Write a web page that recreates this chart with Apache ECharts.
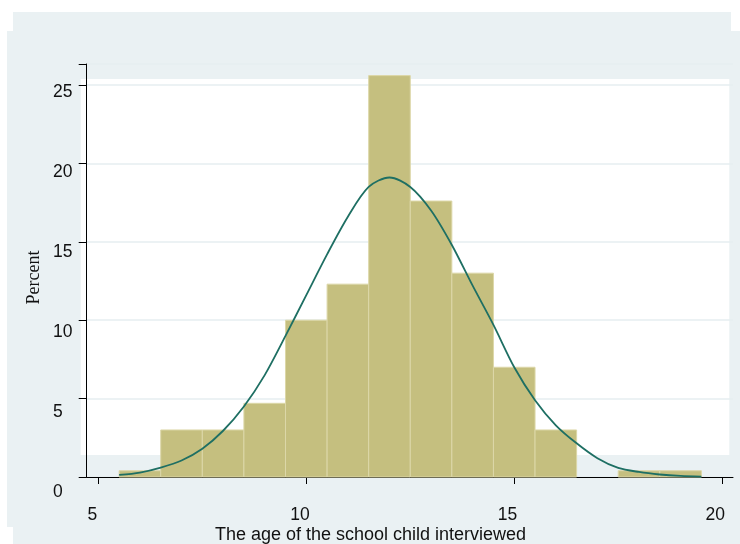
<!DOCTYPE html>
<html>
<head>
<meta charset="utf-8">
<script src="https://cdn.jsdelivr.net/npm/echarts@6/dist/echarts.min.js"></script>
<style>
html,body{margin:0;padding:0;background:#ffffff;}
#chart{width:740px;height:544px;}
</style>
</head>
<body>
<div id="chart"></div>
<script>
// ---- data ----
const binCenters = [6, 7, 8, 9, 10, 11, 12, 13, 14, 15, 16, 17, 18, 19];
const binPercents = [0.4, 3.0, 3.0, 4.7, 10.0, 12.3, 25.6, 17.6, 13.0, 7.0, 3.0, 0, 0.4, 0.4];
const binWidth = 1;

const curveX = [5.5, 6.0, 6.5, 7.0, 7.5, 8.0, 8.5, 9.0, 9.5, 10.0, 10.5, 11.0, 11.5, 12.0, 12.5,
                13.0, 13.5, 14.0, 14.5, 15.0, 15.5, 16.0, 16.5, 17.0, 17.5, 18.0, 18.5, 19.0, 19.5];
const curveY = [0.13, 0.28, 0.6, 1.05, 1.8, 2.95, 4.5, 6.5, 9.0, 11.6, 14.2, 16.6, 18.5, 19.1, 18.5,
                17.0, 14.8, 12.2, 9.7, 7.0, 4.9, 3.3, 2.15, 1.2, 0.58, 0.32, 0.16, 0.07, 0.03];

const xTickValues = [5, 10, 15, 20];
const yTickValues = [0, 5, 10, 15, 20, 25];
const xTitle = 'The age of the school child interviewed';
const yTitle = 'Percent';

// ---- chart ----
const barData = binCenters.map((c, i) => [c, binPercents[i]]);
const curveData = curveX.map((x, i) => [x, curveY[i]]);

const chart = echarts.init(document.getElementById('chart'), null, {renderer: 'canvas'});
const bg = '#EAF1F3';
const labelFont = {fontFamily: '"Liberation Sans", Arial, sans-serif', fontSize: 17.5, color: '#111'};

chart.setOption({
  animation: false,
  backgroundColor: 'transparent',
  graphic: [
    {type: 'rect', z: -100, shape: {x: 13, y: 12, width: 718, height: 532}, style: {fill: bg}, silent: true},
    {type: 'rect', z: -100, shape: {x: 7, y: 31, width: 733, height: 496}, style: {fill: bg}, silent: true},
    {type: 'rect', z: -100, shape: {x: 731, y: 31, width: 9, height: 513}, style: {fill: bg}, silent: true},
    {type: 'rect', z: -99, shape: {x: 80.7, y: 79, width: 648.6, height: 376}, style: {fill: '#ffffff'}, silent: true},
    {type: 'text', z: 100, x: 370.5, y: 535, silent: true,
      style: {text: xTitle, align: 'center', verticalAlign: 'middle',
              font: '18px "Liberation Sans", Arial, sans-serif', fill: '#111'}},
    {type: 'text', z: 100, x: 34, y: 277.5, rotation: Math.PI / 2, silent: true,
      style: {text: yTitle, align: 'center', verticalAlign: 'middle',
              font: '18px "Liberation Serif", "Times New Roman", serif', fill: '#111'}}
  ],
  grid: [
    {left: 86.7, right: 7, top: 64, bottom: 67, containLabel: false},
    {left: 71.5, right: 4, top: 80, bottom: 44, containLabel: false}
  ],
  xAxis: [
    {
      type: 'value', gridIndex: 0, min: 4.72, max: 20.26,
      axisLine: {show: true, onZero: false, lineStyle: {color: '#000', width: 1}},
      axisTick: {show: true, customValues: xTickValues, length: 7, lineStyle: {color: '#000', width: 1}},
      axisLabel: {show: false},
      splitLine: {show: false}
    },
    {
      type: 'value', gridIndex: 1, min: 4.5, max: 20.5,
      axisLine: {show: false}, axisTick: {show: false}, splitLine: {show: false},
      axisLabel: Object.assign({show: true, customValues: xTickValues, margin: 6}, labelFont)
    }
  ],
  yAxis: [
    {
      type: 'value', gridIndex: 0, min: 0, max: 26.34, interval: 5,
      axisLine: {show: true, onZero: false, lineStyle: {color: '#000', width: 1}},
      axisTick: {show: true, length: 8, lineStyle: {color: '#000', width: 1}},
      axisLabel: {show: false},
      splitLine: {show: true, lineStyle: {color: '#E6EEF1', width: 1.5}}
    },
    {
      type: 'value', gridIndex: 1, min: -0.5, max: 25.75,
      axisLine: {show: false}, axisTick: {show: false}, splitLine: {show: false},
      axisLabel: Object.assign({show: true, customValues: yTickValues, margin: 18.5, align: 'left'}, labelFont)
    }
  ],
  series: [
    {
      type: 'custom', xAxisIndex: 0, yAxisIndex: 0, z: 3,
      data: barData,
      renderItem: function (params, api) {
        const c = api.value(0), v = api.value(1);
        if (!v) return null;
        const p0 = api.coord([c - binWidth / 2, v]);
        const p1 = api.coord([c + binWidth / 2, 0]);
        return {
          type: 'rect',
          shape: {x: p0[0], y: p0[1], width: p1[0] - p0[0], height: p1[1] - p0[1]},
          style: {fill: '#C5BF7F', stroke: '#DCD7A8', lineWidth: 1}
        };
      }
    },
    {
      type: 'line', xAxisIndex: 0, yAxisIndex: 0, z: 4,
      data: curveData, smooth: 0.3, symbol: 'none',
      lineStyle: {color: '#1E6F63', width: 1.8}
    }
  ]
});
</script>
</body>
</html>
